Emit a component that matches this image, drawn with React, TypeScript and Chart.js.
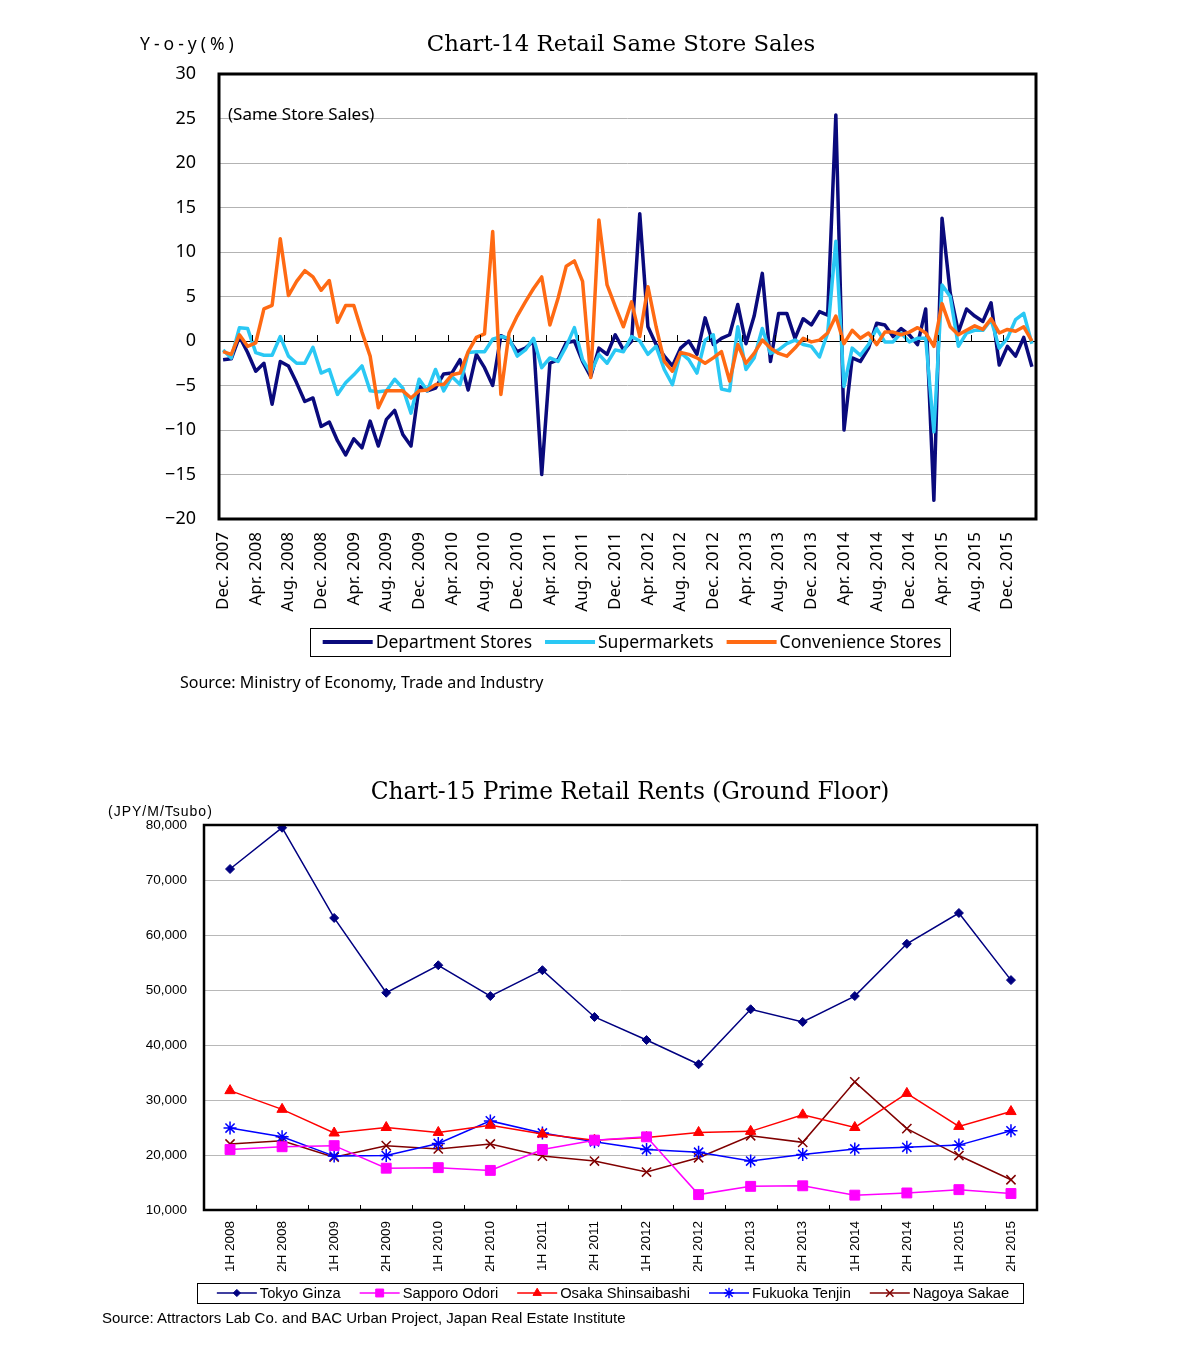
import React, { useEffect, useRef } from 'react';
import { Chart, registerables } from 'chart.js';
import { drawPoint } from 'chart.js/helpers';

Chart.register(...registerables);

// ---------- Chart-14 data ----------
const SALES_TICK_LABELS = [
  'Dec. 2007', 'Apr. 2008', 'Aug. 2008', 'Dec. 2008', 'Apr. 2009', 'Aug. 2009', 'Dec. 2009',
  'Apr. 2010', 'Aug. 2010', 'Dec. 2010', 'Apr. 2011', 'Aug. 2011', 'Dec. 2011', 'Apr. 2012',
  'Aug. 2012', 'Dec. 2012', 'Apr. 2013', 'Aug. 2013', 'Dec. 2013', 'Apr. 2014', 'Aug. 2014',
  'Dec. 2014', 'Apr. 2015', 'Aug. 2015', 'Dec. 2015',
];
const MONTH_NAMES = ['Jan.', 'Feb.', 'Mar.', 'Apr.', 'May', 'Jun.', 'Jul.', 'Aug.', 'Sep.', 'Oct.', 'Nov.', 'Dec.'];
// categories: monthly, Dec. 2007 .. Mar. 2016
const SALES_MONTHS: string[] = [];
for (let k = 0; k < 100; k++) {
  const m = (11 + k) % 12;
  const y = 2007 + Math.floor((11 + k) / 12);
  SALES_MONTHS.push(`${MONTH_NAMES[m]} ${y}`);
}

const DEPT = [
  -2.1, -2.0, 0.5, -1.3, -3.4, -2.5, -7.1, -2.3, -2.8, -4.7,
  -6.8, -6.4, -9.6, -9.1, -11.2, -12.8, -11.0, -12.0, -9.0, -11.8,
  -8.8, -7.8, -10.5, -11.8, -5.1, -5.6, -5.3, -3.7, -3.6, -2.1,
  -5.5, -1.5, -3.0, -5.0, 0.6, 0.1, -1.2, -0.8, 0.0, -15.0,
  -2.5, -2.1, -0.2, 0.0, -2.3, -4.0, -0.8, -1.5, 0.7, -1.0,
  0.0, 14.3, 1.6, -0.4, -1.7, -2.8, -0.8, 0.0, -1.5, 2.6,
  -0.4, 0.3, 0.7, 4.1, -0.3, 2.8, 7.6, -2.3, 3.1, 3.1,
  0.3, 2.5, 1.8, 3.3, 2.9, 25.4, -10.0, -1.9, -2.3, -0.8,
  2.0, 1.8, 0.5, 1.4, 0.7, -0.4, 3.6, -17.9, 13.8, 5.4,
  1.0, 3.6, 2.8, 2.2, 4.3, -2.7, -0.6, -1.7, 0.4, -2.9,
];
const SUPER = [
  -1.0, -1.9, 1.5, 1.4, -1.3, -1.6, -1.6, 0.5, -1.7, -2.5,
  -2.5, -0.7, -3.6, -3.2, -6.0, -4.7, -3.8, -2.8, -5.6, -5.7,
  -5.6, -4.3, -5.3, -8.1, -4.3, -5.6, -3.2, -5.6, -4.0, -4.9,
  -1.3, -1.2, -1.2, 0.2, 0.5, 0.3, -1.7, -1.0, 0.3, -3.0,
  -1.9, -2.3, -0.6, 1.5, -2.1, -3.6, -1.5, -2.5, -1.0, -1.2,
  0.5, 0.0, -1.5, -0.6, -3.2, -4.9, -1.3, -2.1, -3.6, 0.1,
  0.7, -5.4, -5.6, 1.6, -3.2, -1.9, 1.4, -1.4, -1.0, -0.3,
  0.1, -0.4, -0.6, -1.8, 0.9, 11.2, -5.1, -0.8, -1.6, -0.4,
  1.4, -0.1, -0.1, 0.9, -0.1, 0.3, 0.3, -10.2, 6.3, 5.0,
  -0.6, 0.9, 1.2, 1.2, 2.4, -0.8, 0.3, 2.4, 3.1, -0.3,
];
const CONV = [
  -1.2, -1.5, 0.7, -0.6, -0.2, 3.6, 4.0, 11.5, 5.1, 6.7,
  7.9, 7.2, 5.7, 6.8, 2.1, 4.0, 4.0, 1.0, -1.7, -7.5,
  -5.6, -5.6, -5.6, -6.4, -5.6, -5.5, -4.9, -4.9, -3.8, -3.6,
  -1.2, 0.4, 0.8, 12.3, -6.0, 0.9, 2.8, 4.4, 5.9, 7.2,
  1.8, 4.8, 8.4, 9.0, 6.7, -4.1, 13.6, 6.3, 3.9, 1.6,
  4.4, 0.5, 6.1, 1.6, -2.3, -3.4, -1.3, -1.5, -1.9, -2.5,
  -1.9, -1.2, -4.5, -0.4, -2.5, -1.4, 0.1, -0.8, -1.4, -1.7,
  -0.8, 0.3, -0.1, 0.1, 0.9, 2.8, -0.3, 1.2, 0.3, 0.9,
  -0.4, 1.0, 1.0, 0.7, 1.0, 1.5, 0.9, -0.6, 4.2, 1.6,
  0.7, 1.2, 1.7, 1.3, 2.5, 0.9, 1.3, 1.1, 1.6, 0.0,
];

// ---------- Chart-15 data ----------
const HALF_YEARS = [
  '1H 2008', '2H 2008', '1H 2009', '2H 2009', '1H 2010', '2H 2010', '1H 2011', '2H 2011',
  '1H 2012', '2H 2012', '1H 2013', '2H 2013', '1H 2014', '2H 2014', '1H 2015', '2H 2015',
];
const TOKYO_GINZA = [72000, 79500, 63100, 49500, 54500, 48900, 53600, 45100, 40900, 36500, 46500, 44200, 48900, 58400, 64000, 51800];
const SAPPORO_ODORI = [21000, 21500, 21700, 17600, 17700, 17200, 21000, 22700, 23300, 12800, 14300, 14400, 12700, 13100, 13700, 13000];
const OSAKA_SHINSAIBASHI = [31700, 28300, 24000, 25000, 24100, 25400, 23800, 22700, 23200, 24100, 24300, 27300, 25000, 31200, 25200, 27900];
const FUKUOKA_TENJIN = [24900, 23300, 19800, 19900, 22100, 26200, 24000, 22400, 21000, 20500, 18900, 20100, 21100, 21400, 21800, 24400];
const NAGOYA_SAKAE = [22000, 22600, 19600, 21700, 21100, 22000, 19800, 18900, 16900, 19500, 23500, 22300, 33300, 24800, 19900, 15500];

// ---------- plugins ----------
const framePlugin = {
  id: 'frame',
  afterDatasetsDraw(chart: any, _a: any, opts: any) {
    const { ctx, chartArea: a } = chart;
    ctx.save();
    ctx.strokeStyle = '#000';
    ctx.lineWidth = opts.width || 3;
    ctx.strokeRect(a.left, a.top, a.right - a.left, a.bottom - a.top);
    ctx.restore();
  },
};

const catTicksPlugin = {
  id: 'catTicks',
  afterDatasetsDraw(chart: any, _a: any, opts: any) {
    const { ctx } = chart;
    const xs = chart.scales.x;
    const ys = chart.scales.y;
    const base = opts.atZero ? Math.round(ys.getPixelForValue(0)) : chart.chartArea.bottom;
    const n = chart.data.labels.length;
    ctx.save();
    ctx.strokeStyle = '#000';
    ctx.lineWidth = 1;
    ctx.beginPath();
    for (let i = opts.start; i < n - 1; i += opts.every) {
      const px = Math.round((xs.getPixelForValue(i) + xs.getPixelForValue(i + 1)) / 2) + 0.5;
      ctx.moveTo(px, base);
      ctx.lineTo(px, base - opts.len);
    }
    ctx.stroke();
    ctx.restore();
  },
};

const boxLegendPlugin = {
  id: 'boxLegend',
  afterDraw(chart: any, _a: any, opts: any) {
    const { ctx } = chart;
    const ds = chart.data.datasets;
    ctx.save();
    ctx.font = opts.font;
    const widths = ds.map((d: any) => ctx.measureText(d.label).width);
    const itemW = widths.map((w: number) => opts.lineW + opts.gap + w);
    const total = itemW.reduce((s: number, v: number) => s + v, 0) + opts.itemGap * (ds.length - 1);
    let x = opts.cx - total / 2;
    const top = opts.cy - opts.h / 2;
    ctx.strokeStyle = '#000';
    ctx.lineWidth = 1;
    ctx.strokeRect(Math.round(x - opts.padL) + 0.5, Math.round(top) + 0.5, Math.round(total + opts.padL + opts.padR), Math.round(opts.h));
    ds.forEach((d: any, i: number) => {
      ctx.strokeStyle = d.borderColor;
      ctx.lineWidth = opts.lineWidth || d.borderWidth;
      ctx.beginPath();
      ctx.moveTo(x, opts.cy);
      ctx.lineTo(x + opts.lineW, opts.cy);
      ctx.stroke();
      if (opts.markers && d.pointStyle) {
        ctx.fillStyle = d.pointBackgroundColor || d.borderColor;
        ctx.strokeStyle = d.pointBorderColor || d.borderColor;
        ctx.lineWidth = d.pointBorderWidth || 1;
        drawPoint(ctx, { pointStyle: d.pointStyle, radius: d.pointRadius * opts.markerScale, borderWidth: d.pointBorderWidth || 1, rotation: 0 } as any, x + opts.lineW / 2, opts.cy);
      }
      ctx.fillStyle = '#000';
      ctx.textBaseline = 'middle';
      ctx.textAlign = 'left';
      ctx.fillText(d.label, x + opts.lineW + opts.gap, opts.cy + 1);
      x += itemW[i] + opts.itemGap;
    });
    ctx.restore();
  },
};

const SANS14 = '"Noto Sans", sans-serif';
const SANS15 = '"Liberation Sans", Arial, sans-serif';
const SERIF = '"DejaVu Serif", serif';

export default function App() {
  const ref1 = useRef<HTMLCanvasElement>(null);
  const ref2 = useRef<HTMLCanvasElement>(null);

  useEffect(() => {
    const c1 = new Chart(ref1.current as HTMLCanvasElement, {
      type: 'line',
      data: {
        labels: SALES_MONTHS,
        datasets: [
          { label: 'Department Stores', data: DEPT, borderColor: '#0a0a7c', borderWidth: 3.5, pointRadius: 0, order: 2, borderJoinStyle: 'round' } as any,
          { label: 'Supermarkets', data: SUPER, borderColor: '#2ac8f4', borderWidth: 3.5, pointRadius: 0, order: 1, borderJoinStyle: 'round' } as any,
          { label: 'Convenience Stores', data: CONV, borderColor: '#ff6a13', borderWidth: 3.5, pointRadius: 0, order: 0, borderJoinStyle: 'round' } as any,
        ],
      },
      options: {
        animation: false,
        responsive: false,
        devicePixelRatio: 1,
        events: [],
        layout: { padding: { left: 0, top: 66, right: 141, bottom: 0 } },
        plugins: {
          legend: { display: false },
          title: { display: false },
          tooltip: { enabled: false },
          frame: { width: 3 },
          catTicks: { atZero: true, start: 3, every: 4, len: 6 },
          boxLegend: { font: `17.5px ${SANS14}`, cx: 624, cy: 634, h: 28, lineW: 50, gap: 3, itemGap: 13, padL: 13, padR: 8, lineWidth: 4 },
        } as any,
        scales: {
          x: {
            type: 'category',
            offset: true,
            grid: { display: false },
            border: { display: false },
            afterFit: (s: any) => { s.height = 189; },
            ticks: {
              autoSkip: false,
              minRotation: 90,
              maxRotation: 90,
              padding: 5,
              color: '#000',
              font: { family: SANS14, size: 17 },
              callback: (_v: any, i: number) => (i % 4 === 0 ? SALES_TICK_LABELS[i / 4] : ''),
            },
          },
          y: {
            min: -20,
            max: 30,
            afterFit: (s: any) => { s.width = 211; },
            border: { display: false },
            grid: {
              drawTicks: false,
              color: (c: any) => (c.tick && c.tick.value === 0 ? '#000' : '#b3b3b3'),
              lineWidth: 1,
            },
            ticks: {
              stepSize: 5,
              padding: 23,
              color: '#000',
              font: { family: SANS14, size: 18 },
              callback: (v: any) => (Number(v) < 0 ? '\u2212' + Math.abs(Number(v)) : String(v)),
            },
          },
        },
      } as any,
      plugins: [framePlugin, catTicksPlugin, boxLegendPlugin],
    });

    const c2 = new Chart(ref2.current as HTMLCanvasElement, {
      type: 'line',
      data: {
        labels: HALF_YEARS,
        datasets: [
          { label: 'Tokyo Ginza', data: TOKYO_GINZA, borderColor: '#000080', backgroundColor: '#000080', borderWidth: 1.5, pointStyle: 'rectRot', pointRadius: 4.5, pointBackgroundColor: '#000080', pointBorderColor: '#000080', pointBorderWidth: 1 } as any,
          { label: 'Sapporo Odori', data: SAPPORO_ODORI, borderColor: '#ff00ff', backgroundColor: '#ff00ff', borderWidth: 1.5, pointStyle: 'rect', pointRadius: 7, pointBackgroundColor: '#ff00ff', pointBorderColor: '#ff00ff', pointBorderWidth: 1 } as any,
          { label: 'Osaka Shinsaibashi', data: OSAKA_SHINSAIBASHI, borderColor: '#ff0000', backgroundColor: '#ff0000', borderWidth: 1.5, pointStyle: 'triangle', pointRadius: 6, pointBackgroundColor: '#ff0000', pointBorderColor: '#ff0000', pointBorderWidth: 1 } as any,
          { label: 'Fukuoka Tenjin', data: FUKUOKA_TENJIN, borderColor: '#0000ff', backgroundColor: '#0000ff', borderWidth: 1.5, pointStyle: 'star', pointRadius: 6.5, pointBackgroundColor: '#0000ff', pointBorderColor: '#0000ff', pointBorderWidth: 1.5 } as any,
          { label: 'Nagoya Sakae', data: NAGOYA_SAKAE, borderColor: '#800000', backgroundColor: '#800000', borderWidth: 1.5, pointStyle: 'crossRot', pointRadius: 6.5, pointBackgroundColor: '#800000', pointBorderColor: '#800000', pointBorderWidth: 1.5 } as any,
        ],
      },
      options: {
        animation: false,
        responsive: false,
        devicePixelRatio: 1,
        events: [],
        layout: { padding: { left: 0, top: 97, right: 140, bottom: 0 } },
        plugins: {
          legend: { display: false },
          title: { display: false },
          tooltip: { enabled: false },
          frame: { width: 2.5 },
          catTicks: { atZero: false, start: 0, every: 1, len: 5 },
          boxLegend: { font: `14.7px ${SANS15}`, cx: 605, cy: 565, h: 20, lineW: 40, gap: 3, itemGap: 19, padL: 20, padR: 14, lineWidth: 1.5, markers: true, markerScale: 0.8 },
        } as any,
        scales: {
          x: {
            type: 'category',
            offset: true,
            grid: { display: false },
            border: { display: false },
            afterFit: (s: any) => { s.height = 143; },
            ticks: {
              autoSkip: false,
              minRotation: 90,
              maxRotation: 90,
              padding: 3,
              color: '#000',
              font: { family: SANS15, size: 13.5 },
            },
          },
          y: {
            min: 10000,
            max: 80000,
            afterFit: (s: any) => { s.width = 196; },
            border: { display: false },
            grid: { drawTicks: false, color: '#b8b8b8', lineWidth: 1 },
            ticks: {
              stepSize: 10000,
              padding: 17,
              color: '#000',
              font: { family: SANS15, size: 13.5 },
              callback: (v: any) => Number(v).toLocaleString('en-US'),
            },
          },
        },
      } as any,
      plugins: [framePlugin, catTicksPlugin, boxLegendPlugin],
    });

    return () => {
      c1.destroy();
      c2.destroy();
    };
  }, []);

  const abs = (left: number, top: number, size: number, family: string, extra: any = {}): React.CSSProperties => ({
    position: 'absolute', left, top, fontSize: size, lineHeight: `${size}px`, fontFamily: family,
    whiteSpace: 'nowrap', color: '#000', pointerEvents: 'none', ...extra,
  });

  return (
    <div style={{ position: 'relative', width: 1169, height: 1353, background: '#fff' }}>
      <canvas ref={ref1} width={1169} height={700} style={{ position: 'absolute', left: 0, top: 0, width: 1169, height: 700 }} />
      <canvas ref={ref2} width={1169} height={625} style={{ position: 'absolute', left: 0, top: 720, width: 1169, height: 625 }} />

      <div style={abs(132, 27, 17.5, SANS14, { letterSpacing: '4px' })}>Y-o-y(%)</div>
      <div style={abs(313, 24, 22.8, SERIF, { width: 600, textAlign: 'center' })}>Chart-14 Retail Same Store Sales</div>
      <div style={abs(220, 97, 17, SANS14)}>(Same Store Sales)</div>
      <div style={abs(172, 666, 16, SANS14)}>Source: Ministry of Economy, Trade and Industry</div>

      <div style={abs(322, 771, 23.3, SERIF, { width: 600, textAlign: 'center' })}>Chart-15 Prime Retail Rents (Ground Floor)</div>
      <div style={abs(100, 796, 14, SANS15, { letterSpacing: '1px' })}>(JPY/M/Tsubo)</div>
      <div style={abs(94, 1302, 15, SANS15)}>Source: Attractors Lab Co. and BAC Urban Project, Japan Real Estate Institute</div>
    </div>
  );
}
